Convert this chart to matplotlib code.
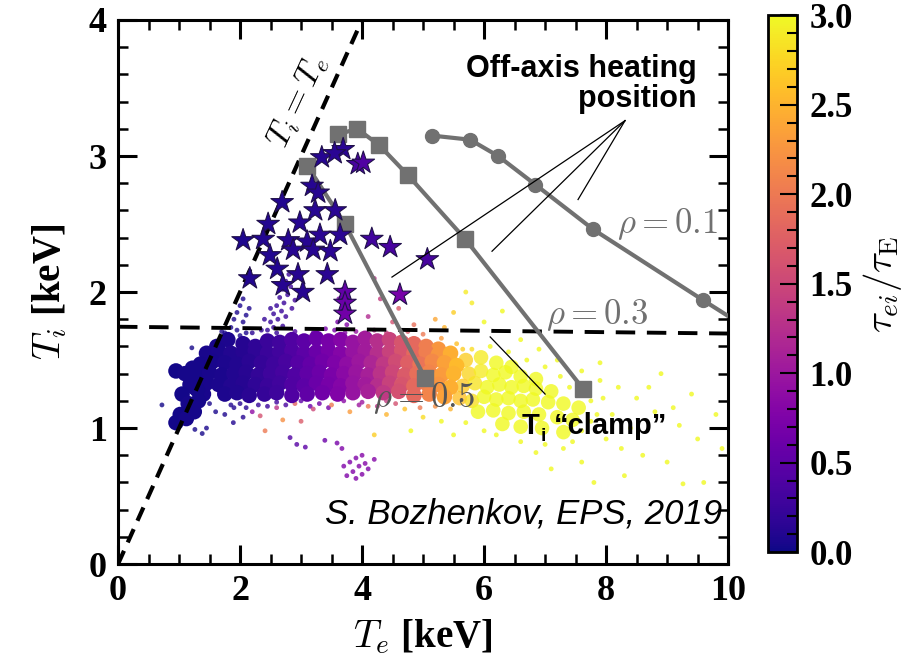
import numpy as np
import matplotlib.pyplot as plt
from matplotlib.colors import Normalize
from matplotlib.ticker import MultipleLocator

plt.rcParams['font.family'] = 'Liberation Serif'
plt.rcParams['mathtext.fontset'] = 'cm'

# --- dense part of the discharge database: (Te, Ti, tau_ei/tau_E) ---
core_band = [
    (1.62, 1.60, 0.05), (1.80, 1.65, 0.08), (2.05, 1.62, 0.12), (2.25, 1.60, 0.18),
    (2.45, 1.64, 0.25), (2.65, 1.63, 0.30), (2.85, 1.65, 0.40), (3.05, 1.64, 0.50),
    (3.25, 1.66, 0.60), (3.45, 1.64, 0.70), (3.65, 1.65, 0.80), (3.85, 1.63, 0.95),
    (4.05, 1.66, 1.05), (4.25, 1.64, 1.25), (4.45, 1.65, 1.45), (4.65, 1.63, 1.65),
    (4.85, 1.62, 1.85), (5.05, 1.60, 2.05), (5.25, 1.58, 2.25),
    (1.45, 1.55, 0.05), (1.65, 1.57, 0.06), (1.85, 1.55, 0.10), (2.05, 1.56, 0.12),
    (2.25, 1.57, 0.18), (2.45, 1.55, 0.25), (2.65, 1.56, 0.30), (2.85, 1.57, 0.40),
    (3.05, 1.55, 0.50), (3.25, 1.56, 0.60), (3.45, 1.57, 0.70), (3.65, 1.55, 0.80),
    (3.85, 1.56, 0.95), (4.05, 1.57, 1.05), (4.25, 1.55, 1.25), (4.45, 1.56, 1.45),
    (4.65, 1.57, 1.65), (4.85, 1.55, 1.85), (5.05, 1.56, 2.05), (5.25, 1.54, 2.25),
    (5.45, 1.55, 2.45),
    (1.35, 1.47, 0.04), (1.55, 1.49, 0.05), (1.75, 1.48, 0.08), (1.95, 1.47, 0.10),
    (2.15, 1.49, 0.15), (2.35, 1.48, 0.22), (2.55, 1.47, 0.28), (2.75, 1.49, 0.35),
    (2.95, 1.48, 0.45), (3.15, 1.47, 0.55), (3.35, 1.49, 0.65), (3.55, 1.48, 0.75),
    (3.75, 1.47, 0.90), (3.95, 1.49, 1.00), (4.15, 1.48, 1.15), (4.35, 1.47, 1.35),
    (4.55, 1.49, 1.55), (4.75, 1.48, 1.75), (4.95, 1.47, 1.95), (5.15, 1.49, 2.15),
    (5.35, 1.48, 2.35), (5.55, 1.46, 2.55),
    (1.30, 1.40, 0.04), (1.50, 1.41, 0.05), (1.70, 1.39, 0.07), (1.90, 1.40, 0.10),
    (2.10, 1.41, 0.14), (2.30, 1.39, 0.20), (2.50, 1.40, 0.27), (2.70, 1.41, 0.33),
    (2.90, 1.39, 0.42), (3.10, 1.40, 0.52), (3.30, 1.41, 0.62), (3.50, 1.39, 0.72),
    (3.70, 1.40, 0.85), (3.90, 1.41, 0.98), (4.10, 1.39, 1.10), (4.30, 1.40, 1.30),
    (4.50, 1.41, 1.50), (4.70, 1.39, 1.70), (4.90, 1.40, 1.90), (5.10, 1.41, 2.10),
    (5.30, 1.39, 2.30), (5.50, 1.40, 2.50),
    (1.25, 1.30, 0.04), (1.45, 1.33, 0.05), (1.65, 1.32, 0.06), (1.85, 1.31, 0.10),
    (2.05, 1.33, 0.12), (2.25, 1.32, 0.18), (2.45, 1.31, 0.25), (2.65, 1.33, 0.30),
    (2.85, 1.32, 0.40), (3.05, 1.31, 0.50), (3.25, 1.33, 0.60), (3.45, 1.32, 0.70),
    (3.65, 1.31, 0.80), (3.85, 1.33, 0.95), (4.05, 1.32, 1.05), (4.25, 1.31, 1.25),
    (4.45, 1.33, 1.45), (4.65, 1.32, 1.65), (4.85, 1.31, 1.85), (5.05, 1.33, 2.05),
    (5.25, 1.32, 2.25), (5.45, 1.30, 2.45),
    (1.40, 1.25, 0.05), (1.75, 1.25, 0.08), (1.95, 1.26, 0.10),
    (2.15, 1.24, 0.15), (2.40, 1.25, 0.22), (2.60, 1.26, 0.28), (2.85, 1.24, 0.40),
    (3.10, 1.25, 0.52), (3.35, 1.26, 0.65), (3.60, 1.25, 0.78), (3.85, 1.26, 0.95),
    (4.10, 1.27, 1.10), (4.35, 1.26, 1.35), (4.60, 1.27, 1.60), (4.85, 1.24, 1.85),
    (5.10, 1.25, 2.10), (5.35, 1.23, 2.35),
    # low-Te wing across the Ti = Te line
    (0.95, 1.42, 0.03), (1.10, 1.40, 0.04), (1.22, 1.44, 0.04), (1.18, 1.32, 0.04),
    (1.05, 1.25, 0.03), (1.15, 1.18, 0.04), (1.02, 1.10, 0.03), (0.95, 1.04, 0.03),
    (1.12, 1.07, 0.04), (1.25, 1.12, 0.04), (1.32, 1.20, 0.04), (1.30, 1.28, 0.04),
]

core_hot = [
    (5.70, 1.50, 2.70), (5.95, 1.52, 2.90), (6.20, 1.48, 3.00), (6.45, 1.45, 3.00),
    (5.75, 1.40, 2.75), (5.95, 1.42, 2.90), (6.15, 1.39, 3.00), (6.35, 1.41, 3.00),
    (6.60, 1.38, 3.00), (6.85, 1.36, 3.00),
    (5.65, 1.31, 2.65), (5.85, 1.33, 2.85), (6.05, 1.30, 3.00), (6.25, 1.32, 3.00),
    (6.45, 1.30, 3.00), (6.65, 1.31, 3.00), (6.85, 1.29, 3.00), (7.10, 1.27, 3.00),
    (5.60, 1.22, 2.60), (5.80, 1.20, 2.80), (6.00, 1.23, 3.00), (6.20, 1.21, 3.00),
    (6.40, 1.22, 3.00), (6.60, 1.20, 3.00), (6.80, 1.21, 3.00), (7.05, 1.19, 3.00),
    (7.30, 1.18, 3.00), (7.55, 1.15, 3.00),
    (5.90, 1.12, 3.00), (6.15, 1.13, 3.00), (6.40, 1.11, 3.00), (6.65, 1.12, 3.00),
    (6.90, 1.10, 3.00), (7.20, 1.08, 3.00), (7.45, 1.06, 3.00),
    (6.30, 1.03, 3.00), (6.60, 1.01, 3.00), (6.95, 1.00, 3.00), (7.30, 0.97, 3.00),
]

# --- sparse single discharges ---
sparse_pts = [
    # streak along Ti = Te above the band
    (1.75, 1.70, 0.05), (1.85, 1.74, 0.05), (1.90, 1.80, 0.06), (1.95, 1.85, 0.06),
    (2.00, 1.90, 0.07), (2.05, 1.95, 0.07), (1.95, 1.72, 0.06), (2.05, 1.78, 0.07),
    (2.10, 1.83, 0.07), (2.15, 1.88, 0.08), (2.00, 1.68, 0.07), (2.10, 1.70, 0.08),
    # column at Te ~ 2.5-3
    (2.45, 1.72, 0.20), (2.50, 1.78, 0.20), (2.55, 1.84, 0.22), (2.60, 1.90, 0.22),
    (2.65, 1.96, 0.24), (2.70, 2.02, 0.25), (2.75, 2.08, 0.25), (2.80, 2.13, 0.26),
    (2.55, 1.74, 0.22), (2.62, 1.80, 0.22), (2.68, 1.86, 0.24), (2.72, 1.92, 0.24),
    (2.78, 1.98, 0.26), (2.83, 2.04, 0.27), (2.60, 1.70, 0.22), (2.70, 1.75, 0.25),
    (2.75, 1.82, 0.25), (2.85, 1.88, 0.28), (2.90, 1.94, 0.30), (2.40, 1.80, 0.20),
    (2.50, 1.88, 0.20),
    # Te ~ 3.5-3.8 above the clamp
    (3.55, 1.72, 0.70), (3.60, 1.78, 0.72), (3.65, 1.85, 0.75), (3.70, 1.90, 0.78),
    (3.62, 1.95, 0.72), (3.68, 2.02, 0.75), (3.75, 1.76, 0.80), (3.72, 1.70, 0.80),
    (4.10, 1.82, 1.20), (4.30, 1.95, 1.40), (4.50, 1.78, 1.60), (4.20, 2.10, 1.30),
    (4.60, 1.88, 1.70), (4.85, 1.76, 1.90),
    (5.20, 1.80, 2.40), (5.50, 1.85, 2.70), (5.80, 1.92, 2.90), (6.00, 1.78, 3.00),
    (5.35, 1.74, 2.50), (6.30, 1.86, 3.00), (5.70, 2.00, 2.90), (6.60, 1.65, 3.00),
    (6.90, 1.58, 3.00), (7.20, 1.50, 3.00),
    # band fringe
    (1.70, 1.71, 0.06), (2.20, 1.70, 0.15), (2.35, 1.72, 0.20), (2.90, 1.71, 0.42),
    (3.20, 1.70, 0.60), (3.40, 1.73, 0.70), (3.90, 1.71, 0.95), (4.20, 1.72, 1.20),
    (4.40, 1.70, 1.40), (4.75, 1.71, 1.70), (5.00, 1.69, 2.00), (5.30, 1.66, 2.30),
    (5.55, 1.62, 2.60), (5.65, 1.58, 2.70),
    (1.50, 1.18, 0.05), (1.85, 1.17, 0.10), (2.10, 1.15, 0.14), (2.45, 1.16, 0.25),
    (2.75, 1.17, 0.35), (3.15, 1.16, 0.60), (3.45, 1.15, 0.70), (3.95, 1.17, 1.00),
    (4.25, 1.16, 1.30), (4.55, 1.18, 1.60), (4.95, 1.15, 2.00), (5.20, 1.16, 2.20),
    (5.45, 1.14, 2.50),
    # below the band
    (1.21, 1.59, 0.04), (0.72, 1.17, 0.03), (1.89, 1.04, 0.10), (2.05, 1.08, 0.12),
    (1.26, 0.99, 0.04), (1.38, 0.96, 0.04), (1.45, 1.00, 0.05), (2.82, 0.93, 0.40),
    (2.93, 0.88, 0.45), (3.07, 0.86, 0.50), (2.41, 0.98, 2.00), (2.33, 1.09, 1.60),
    (3.39, 0.91, 0.60), (3.59, 0.89, 0.70), (3.67, 0.85, 0.75), (1.90, 1.15, 0.10),
    (2.20, 1.12, 0.90), (2.60, 1.15, 1.30), (2.90, 1.18, 1.80), (3.20, 1.14, 1.50),
    (3.50, 1.17, 2.00), (3.80, 1.12, 2.30), (4.10, 1.16, 2.00), (4.40, 1.10, 2.50),
    (4.70, 1.14, 2.60), (5.00, 1.08, 2.80), (5.30, 1.05, 3.00), (4.20, 0.95, 2.70),
    (3.00, 1.05, 1.70), (2.70, 1.06, 2.20), (4.80, 0.98, 3.00), (5.50, 0.95, 3.00),
    (2.00, 1.18, 0.12), (2.30, 1.17, 0.20), (2.60, 1.19, 0.30), (3.00, 1.20, 0.50),
    (3.30, 1.18, 0.65), (3.70, 1.20, 0.85), (4.00, 1.19, 1.00), (4.40, 1.20, 1.40),
    (1.60, 1.12, 0.05), (1.75, 1.10, 0.08),
    # small group at low Ti
    (3.70, 0.72, 0.75), (3.80, 0.75, 0.75), (3.85, 0.68, 0.78), (3.90, 0.78, 0.75),
    (3.95, 0.72, 0.80), (4.00, 0.66, 0.78), (4.05, 0.74, 0.80), (4.10, 0.70, 0.75),
    (4.20, 0.77, 0.80), (3.75, 0.65, 0.75), (3.90, 0.63, 0.78), (4.00, 0.80, 0.80),
    # high-Te tail
    (7.60, 1.42, 3.0), (7.90, 1.35, 3.0), (8.20, 1.30, 3.0), (8.50, 1.22, 3.0),
    (8.80, 1.12, 3.0), (9.20, 1.02, 3.0), (9.50, 0.92, 3.0), (8.00, 0.92, 3.0),
    (8.60, 0.80, 3.0), (9.00, 0.75, 3.0), (9.40, 1.25, 3.0), (9.80, 1.10, 3.0),
    (7.60, 0.75, 3.0), (8.30, 0.65, 3.0), (9.60, 0.60, 3.0), (7.90, 1.48, 3.0),
    (8.90, 1.40, 3.0), (9.26, 0.59, 3.0), (7.30, 0.85, 3.0), (7.00, 0.88, 3.0),
    (8.10, 1.10, 3.0), (7.75, 1.20, 3.0), (9.90, 0.85, 3.0), (6.60, 0.90, 3.0),
    (6.20, 0.95, 3.0), (7.10, 0.70, 3.0), (8.40, 1.00, 3.0), (7.40, 1.30, 3.0),
    (7.75, 1.05, 3.0), (7.95, 1.22, 3.0), (8.25, 0.85, 3.0), (7.45, 0.90, 3.0),
    (6.85, 0.82, 3.0), (7.80, 0.60, 3.0), (8.70, 1.30, 3.0), (9.10, 1.15, 3.0),
    (5.80, 1.58, 2.8), (6.10, 1.60, 3.0), (6.40, 1.56, 3.0), (6.70, 1.50, 3.0),
    (7.00, 1.45, 3.0), (7.25, 1.38, 3.0), (7.70, 1.30, 3.0), (5.70, 1.04, 3.0),
    (6.00, 0.98, 3.0), (7.60, 0.98, 3.0), (7.85, 1.10, 3.0),
]

# --- high-Ti discharges (stars) ---
star_te = [3.69, 3.34, 3.55, 3.93, 4.02, 3.18, 3.28, 2.69, 3.23, 3.56, 2.98, 2.46,
           2.05, 2.38, 2.79, 3.10, 3.31, 3.64, 4.16, 4.46, 5.07, 2.49, 2.87, 3.20,
           3.48, 2.61, 2.95, 3.43, 2.16, 2.70, 3.03, 3.72, 4.62, 3.72, 3.72]
star_ti = [3.05, 2.99, 3.02, 2.94, 2.95, 2.78, 2.73, 2.66, 2.60, 2.60, 2.51, 2.50,
           2.38, 2.39, 2.38, 2.37, 2.42, 2.42, 2.39, 2.33, 2.24, 2.27, 2.31, 2.31,
           2.30, 2.17, 2.13, 2.13, 2.10, 2.05, 2.00, 2.00, 1.98, 1.92, 1.84]
star_tau = [0.15, 0.12, 0.15, 0.35, 0.40, 0.12, 0.12, 0.10, 0.12, 0.15, 0.12, 0.10,
            0.08, 0.10, 0.12, 0.12, 0.15, 0.15, 0.30, 0.35, 0.35, 0.10, 0.12, 0.12,
            0.15, 0.10, 0.12, 0.15, 0.10, 0.12, 0.12, 0.55, 0.70, 0.60, 0.65]

# --- off-axis heating scans ---
rho01_te = [5.15, 5.77, 6.23, 6.84, 7.79, 9.59, 10.4]
rho01_ti = [3.15, 3.12, 3.00, 2.79, 2.46, 1.94, 1.71]
rho03_te = [3.61, 3.92, 4.28, 4.75, 5.69, 7.62]
rho03_ti = [3.16, 3.20, 3.08, 2.86, 2.39, 1.29]
rho05_te = [3.10, 3.72, 5.03]
rho05_ti = [2.93, 2.50, 1.37]

clamp_te = [0.0, 10.0]
clamp_ti = [1.745, 1.695]

cmap = 'plasma'
norm = Normalize(vmin=0, vmax=3)
gray = '#717171'

fig = plt.figure(figsize=(9.12, 6.66), dpi=100)
ax = fig.add_axes([0.1294, 0.153, 0.669, 0.817])
cax = fig.add_axes([0.842, 0.171, 0.032, 0.806])

sp = np.array(sparse_pts)
ax.scatter(sp[:, 0], sp[:, 1], c=sp[:, 2], cmap=cmap, norm=norm, s=12,
           linewidths=0, alpha=0.8, zorder=2)
hot = np.array(core_hot)
ax.scatter(hot[:, 0], hot[:, 1], c=hot[:, 2], cmap=cmap, norm=norm, s=110,
           linewidths=0, alpha=0.8, zorder=2)
cb_arr = np.array(core_band)
sc = ax.scatter(cb_arr[:, 0], cb_arr[:, 1], c=cb_arr[:, 2], cmap=cmap, norm=norm,
                s=125, linewidths=0, zorder=2)

# reference lines
ax.plot([0, 4.1], [0, 4.1], color='black', lw=3, ls=(0, (3.5, 2.2)), zorder=3)
ax.plot(clamp_te, clamp_ti, color='black', lw=2.8, ls=(0, (5, 3)), zorder=3)

ax.plot(rho01_te, rho01_ti, '-o', color=gray, lw=3, ms=10, zorder=4)
ax.plot(rho03_te, rho03_ti, '-s', color=gray, lw=3, ms=11, zorder=4)
ax.plot(rho05_te, rho05_ti, '-s', color=gray, lw=3, ms=11, zorder=4)

ax.scatter(star_te, star_ti, c=star_tau, cmap=cmap, norm=norm, marker='*', s=290,
           edgecolors='#20104a', linewidths=0.8, zorder=5)

# annotation leaders
for te_end, ti_end in [(4.49, 2.11), (6.13, 2.30), (7.54, 2.68)]:
    ax.plot([8.31, te_end], [3.26, ti_end], color='black', lw=0.9, zorder=6)
ax.plot([6.10, 7.0], [1.67, 1.25], color='black', lw=0.9, zorder=6)

ax.text(2.95, 3.40, r'$T_i = T_e$', rotation=65, fontsize=24,
        ha='center', va='center')
ax.text(9.49, 3.53, 'Off-axis heating\nposition', ha='right', va='center',
        multialignment='right', family='Liberation Sans', weight='bold',
        fontsize=22, linespacing=1.0, zorder=7)
ax.text(6.62, 0.955, 'T', family='Liberation Sans', weight='bold', fontsize=21,
        va='baseline', zorder=7)
ax.text(6.93, 0.905, 'i', family='Liberation Sans', weight='bold', fontsize=14,
        va='baseline', zorder=7)
ax.text(7.14, 0.955, '\u201cclamp\u201d', family='Liberation Sans', weight='bold',
        fontsize=21, va='baseline', zorder=7)
ax.text(9.9, 0.365, 'S. Bozhenkov, EPS, 2019', family='Liberation Sans',
        style='italic', fontsize=25, ha='right', va='center', zorder=7)

ax.text(9.0, 2.50, r'$\rho = 0.1$', color=gray, fontsize=25, ha='center', va='center', zorder=7)
ax.text(7.85, 1.83, r'$\rho = 0.3$', color=gray, fontsize=25, ha='center', va='center', zorder=7)
ax.text(5.02, 1.22, r'$\rho = 0.5$', color='#555555', fontsize=25, ha='center', va='center', zorder=7)

ax.set_xlim(0, 10)
ax.set_ylim(0, 4)
ax.xaxis.set_major_locator(MultipleLocator(2))
ax.xaxis.set_minor_locator(MultipleLocator(0.5))
ax.yaxis.set_major_locator(MultipleLocator(1))
ax.yaxis.set_minor_locator(MultipleLocator(0.2))
ax.tick_params(which='both', direction='in', top=True, right=True)
ax.tick_params(which='major', length=14, width=2.2, pad=8, labelsize=26)
ax.tick_params(which='minor', length=7, width=1.8)
for lab in ax.get_xticklabels() + ax.get_yticklabels():
    lab.set_fontweight('bold')
for s in ax.spines.values():
    s.set_linewidth(2.2)

ax.set_xlabel(r'$T_e$ [keV]', fontsize=28, fontweight='bold', labelpad=7)
ax.set_ylabel(r'$T_i$ [keV]', fontsize=28, fontweight='bold', labelpad=14)

cb = fig.colorbar(sc, cax=cax)
cb.set_ticks([0, 0.5, 1.0, 1.5, 2.0, 2.5, 3.0])
cb.set_ticklabels(['0.0', '0.5', '1.0', '1.5', '2.0', '2.5', '3.0'])
cax.yaxis.set_minor_locator(MultipleLocator(0.1))
cax.tick_params(which='both', direction='in', width=1.5)
cax.tick_params(which='major', length=12, pad=9, labelsize=25)
cax.tick_params(which='minor', length=7)
for lab in cax.get_yticklabels():
    lab.set_fontweight('bold')
cb.outline.set_linewidth(2)
cb.set_label(r'$\tau_{ei}/\tau_{\rm E}$', fontsize=28, labelpad=6)

fig.savefig('out.png', dpi=100)
